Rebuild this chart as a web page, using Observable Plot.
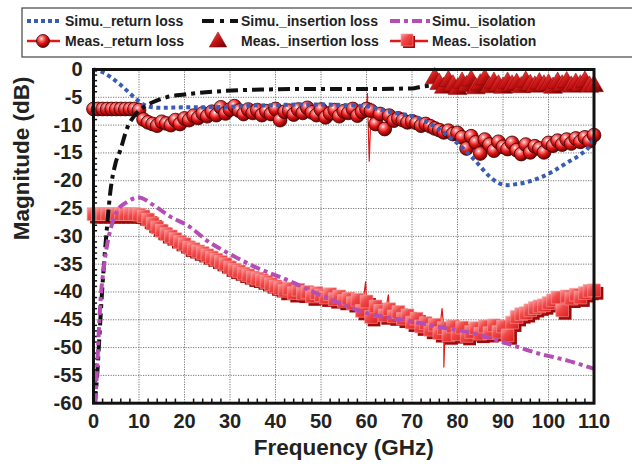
<!DOCTYPE html>
<html><head><meta charset="utf-8">
<script src="https://cdn.jsdelivr.net/npm/d3@7"></script>
<script src="https://cdn.jsdelivr.net/npm/@observablehq/plot@0.6"></script>
<style>
body{margin:0;background:#fff;width:632px;height:469px;overflow:hidden;font-family:"Liberation Sans",Arial,sans-serif;}
#wrap{position:relative;width:632px;height:469px;overflow:hidden;}
#defs{position:absolute;left:0;top:0;width:0;height:0;}
#legend{position:absolute;left:0;top:0;}
#chart{position:absolute;left:0;top:60px;}
</style></head><body>
<div id="wrap">
<svg id="defs" width="0" height="0">
 <defs>
  <radialGradient id="ballGrad" cx="38%" cy="32%" r="70%">
   <stop offset="0%" stop-color="#ffffff"/>
   <stop offset="18%" stop-color="#ff8a8a"/>
   <stop offset="55%" stop-color="#e01515"/>
   <stop offset="100%" stop-color="#6e0000"/>
  </radialGradient>
  <linearGradient id="triGrad" x1="0" y1="0" x2="1" y2="1">
   <stop offset="0%" stop-color="#f86060"/>
   <stop offset="50%" stop-color="#c81414"/>
   <stop offset="100%" stop-color="#600000"/>
  </linearGradient>
  <linearGradient id="sqGrad" x1="0" y1="0" x2="1" y2="1">
   <stop offset="0%" stop-color="#f9a0a0"/>
   <stop offset="40%" stop-color="#f04848"/>
   <stop offset="100%" stop-color="#e01c1c"/>
  </linearGradient>
 </defs>
</svg>
<svg id="legend" width="632" height="60"></svg>
<div id="chart"></div>
</div>
<script>
// ---------- data ----------
const xTicks = [0,10,20,30,40,50,60,70,80,90,100,110];
const yTicks = [0,-5,-10,-15,-20,-25,-30,-35,-40,-45,-50,-55,-60];

const simRLFreq = [0,2,4,6,8,9.5,11,13,15,20,25,30,35,40,45,50,55,60,63,66,69,72,75,78,81,84,87,89,91,93,95,98,101,104,107,109,110];
const simRLVal  = [0,-0.5,-1.5,-2.8,-4.3,-5.4,-6.3,-6.8,-6.9,-6.8,-6.8,-6.7,-6.5,-6.4,-6.3,-6.3,-6.4,-6.6,-7.2,-7.8,-8.2,-8.9,-10.3,-12.0,-14.0,-16.5,-19.2,-20.4,-20.8,-20.6,-20.3,-19.5,-18.3,-16.8,-15.3,-13.8,-12.3];

const simILFreq = [0.3,0.8,1.3,1.8,2.3,3,3.7,4.8,5.9,7.4,9,11,13,16,20,28,37,50,60,70,72,74];
const simILVal  = [-60,-55,-48,-41,-35,-28,-22,-17,-14.5,-10.5,-8.3,-6.8,-5.9,-5,-4.5,-3.9,-3.6,-3.5,-3.5,-3.4,-3.1,-2.9];

const simISOFreq = [0.4,0.8,1.5,2.2,3,4,5.2,7.4,10,13,17,21,25,30,35,43,50,61,70,76,81,86,91,98,104,110];
const simISOVal  = [-60,-53.5,-42,-36,-31.5,-28,-25.4,-23.8,-23,-24.3,-26.5,-28.2,-30.8,-33.2,-35.3,-38,-40.6,-44,-45.3,-46.3,-47,-48,-49.3,-51.1,-52.3,-53.8];

const measFreq = [0,1,2,3,4,5,6,7,8,9,10,11,12,13,14,15,16,17,18,19,20,21,22,23,24,25,26,27,28,29,30,31,32,33,34,35,36,37,38,39,40,41,42,43,44,45,46,47,48,49,50,51,52,53,54,55,56,57,58,59,60,61,62,63,64,65,66,67,68,69,70,71,72,73,74,75,76,77,78,79,80,81,82,83,84,85,86,87,88,89,90,91,92,93,94,95,96,97,98,99,100,101,102,103,104,105,106,107,108,109,110];

const measRLVal = [
 -7.1,-7.1,-7.1,-7.1,-7.1,-7.1,-7.1,-7.1,-7.1,-7.1,
 -7.3,
 -9.0,-9.5,-9.8,-10.1,-9.4,-9.7,-10.0,-9.1,-9.8,-8.8,
 -9.1,-8.3,-8.7,-7.9,-8.4,-7.6,-8.2,-6.8,-7.9,-7.2,
 -6.6,-7.4,-8.0,-7.2,-7.8,-7.3,-8.2,-7.5,-8.0,-7.1,
 -9.1,-7.6,-7.4,-8.1,-7.2,-7.8,-6.9,-7.7,-8.2,-7.2,
 -8.6,-7.9,-7.3,-8.4,-7.5,-7.8,-7.1,-8.3,-7.6,-7.1,
 -7.4,-9.8,-8.0,-10.7,-8.3,-9.2,-8.8,-9.1,-9.5,-9.3,
 -9.6,-10.1,-9.8,-10.2,-10.6,-10.9,-11.3,-11.0,-11.6,-11.4,
 -12.2,-14.2,-12.0,-13.1,-15.1,-12.6,-13.5,-14.6,-13.0,-13.9,
 -14.3,-13.2,-14.5,-15.2,-13.5,-14.9,-13.8,-14.2,-14.9,-13.2,
 -13.7,-12.8,-13.5,-12.6,-13.3,-12.4,-13.0,-12.2,-12.9,-11.8];

const measISOVal = [
 -26,-26,-26,-26,-26,-26,-26,-26,-26,-26,
 -26.1,
 -26.4,-27.0,-27.7,-28.4,-29.0,-29.6,-30.0,-30.5,-31.0,-31.4,
 -32.0,-32.3,-32.7,-33.0,-33.4,-33.8,-34.2,-34.6,-35.0,-35.6,
 -36.0,-36.3,-36.7,-37.0,-37.4,-37.6,-37.9,-38.2,-38.6,-39.0,
 -39.3,-39.8,-39.4,-40.2,-39.6,-40.3,-40.0,-40.8,-40.2,-40.6,
 -41.0,-40.4,-41.3,-40.8,-41.6,-41.2,-42.0,-41.4,-43.4,-41.7,
 -44.5,-42.6,-43.4,-44.2,-43.1,-44.4,-43.6,-44.8,-44.2,-45.5,
 -44.8,-46.2,-45.6,-46.8,-45.9,-47.4,-46.5,-47.8,-46.2,-47.6,
 -46.4,-47.9,-47.2,-46.5,-47.5,-46.2,-47.4,-46.0,-47.2,-46.2,
 -47.8,-45.5,-44.5,-44.0,-43.8,-43.3,-42.9,-42.6,-42.4,-42.0,
 -41.5,-41.0,-43.3,-40.8,-41.2,-40.5,-41.0,-40.2,-39.8,-39.7];

// extra fine-trace excursions of the measured curves (thin red trace only)
const rlSpikeFreq = [60.2,60.6,61.0];
const rlSpikeVal  = [-4.3,-16.5,-6.0];
const isoSpikeFreq = [59.8,64.8,76.6,77.0,77.3];
const isoSpikeVal  = [-38.2,-40.5,-43.0,-53.5,-46.0];

const measILFreq = [75,76,77,78,79,80,81,82,83,84,85,86,87,88,89,90,91,92,93,94,95,96,97,98,99,100,101,102,103,104,105,106,107,108,109,110];
const measILVal  = [-1.6,-2.6,-3.3,-2.1,-2.9,-3.5,-2.4,-3.0,-2.0,-3.4,-2.7,-1.8,-3.2,-2.4,-2.9,-3.3,-2.4,-2.9,-2.6,-3.2,-2.2,-2.8,-3.1,-2.5,-2.9,-2.7,-3.3,-2.4,-2.9,-2.3,-3.1,-2.6,-2.9,-2.2,-3.1,-3.0];

const legendLabels = ["Simu._return loss","Simu._insertion loss","Simu._isolation","Meas._return loss","Meas._insertion loss","Meas._isolation"];

// ---------- build ----------
const rows = (fs, vs) => fs.map((f, i) => ({f, v: vs[i]}));
const simRL = rows(simRLFreq, simRLVal);
const simIL = rows(simILFreq, simILVal);
const simISO = rows(simISOFreq, simISOVal);
const measRL = rows(measFreq, measRLVal);
const measISO = rows(measFreq, measISOVal);
const measIL = rows(measILFreq, measILVal);
const measRLTrace = measRL.concat(rows(rlSpikeFreq, rlSpikeVal)).sort((a, b) => a.f - b.f);
const measISOTrace = measISO.concat(rows(isoSpikeFreq, isoSpikeVal)).sort((a, b) => a.f - b.f);

const minorX = d3.range(0, 111, 2).filter(d => d % 10 !== 0);
const minorY = d3.range(-60, 1, 1).filter(d => d % 5 !== 0);

const BLUE = "#3a5cb4", BLACK = "#111111", MAG = "#b54db5", RED = "#e01818";

const chart = Plot.plot({
  width: 632, height: 409,
  marginTop: 9, marginLeft: 93, marginRight: 38.5, marginBottom: 66.3,
  x: {domain: [0, 110]},
  y: {domain: [-60, 0]},
  style: {fontFamily: "'Liberation Sans', Arial, sans-serif", fontWeight: "bold", fontSize: "20px", color: "#222", background: "white", overflow: "visible"},
  marks: [
    Plot.gridX({ticks: xTicks.slice(1, -1), stroke: "#777", strokeOpacity: 1, strokeWidth: 1, strokeDasharray: "1.2,1.3"}),
    Plot.gridY({ticks: yTicks.slice(1, -1), stroke: "#777", strokeOpacity: 1, strokeWidth: 1, strokeDasharray: "1.2,1.3"}),
    Plot.ruleX(minorX, {x: d => d, y1: -60, y2: -59.25, stroke: "#111", strokeWidth: 1.5}),
    Plot.ruleY(minorY, {y: d => d, x1: 0, x2: 0.9, stroke: "#111", strokeWidth: 1.5}),
    Plot.axisX({ticks: xTicks, tickSize: 0, tickPadding: 11, tickFormat: d => String(d), label: null, fontSize: 20}),
    Plot.axisY({ticks: yTicks, tickSize: 0, tickPadding: 11, tickFormat: d => String(d), label: null, fontSize: 20}),
    // measured
    Plot.line(measRLTrace, {x: "f", y: "v", stroke: RED, strokeWidth: 1.2}),
    Plot.line(measISOTrace, {x: "f", y: "v", stroke: RED, strokeWidth: 1.2}),
    Plot.dot(measISO, {x: "f", y: "v", symbol: "square", r: 7.2, fill: "#a00a0a", dx: 3, dy: 3}),
    Plot.dot(measISO, {x: "f", y: "v", symbol: "square", r: 7.2, fill: "url(#sqGrad)", stroke: "#f79a9a", strokeWidth: 0.6}),
    Plot.dot(measRL, {x: "f", y: "v", r: 6.9, fill: "url(#ballGrad)", stroke: "#3a0000", strokeWidth: 0.8}),
    Plot.dot(measIL, {x: "f", y: "v", symbol: "triangle", r: 7, fill: "url(#triGrad)", stroke: "#8a0000", strokeWidth: 0.5}),
    // simulated
    Plot.line(simRL, {x: "f", y: "v", stroke: BLUE, strokeWidth: 4, strokeDasharray: "4,3.5", strokeLinecap: "butt", curve: "monotone-x"}),
    Plot.line(simIL, {x: "f", y: "v", stroke: BLACK, strokeWidth: 4, strokeDasharray: "12,5,4,5", strokeLinecap: "butt", curve: "monotone-x"}),
    Plot.line(simISO, {x: "f", y: "v", stroke: MAG, strokeWidth: 4, strokeDasharray: "10,4,4,4", strokeLinecap: "butt", curve: "monotone-x"}),
    Plot.frame({stroke: "#111", strokeWidth: 3}),
    Plot.text(["Frequency (GHz)"], {frameAnchor: "bottom", dy: 52, fontSize: 22.5, fontWeight: "bold", fill: "#222"}),
    Plot.text(["Magnitude (dB)"], {frameAnchor: "left", dx: -72, dy: 4, rotate: -90, fontSize: 22.5, fontWeight: "bold", fill: "#222"})
  ]
});
document.getElementById("chart").appendChild(chart);

// ---------- legend ----------
const lg = d3.select("#legend");
lg.append("rect").attr("x", 22).attr("y", 8).attr("width", 700).attr("height", 49)
  .attr("fill", "white").attr("stroke", "#444").attr("stroke-width", 1.2);
const textX = [65, 241, 432];
const rowY = [21, 41];
// row 1 samples
lg.append("line").attr("x1", 27).attr("x2", 60).attr("y1", rowY[0]).attr("y2", rowY[0])
  .attr("stroke", BLUE).attr("stroke-width", 4).attr("stroke-dasharray", "4,3");
lg.append("line").attr("x1", 202).attr("x2", 238).attr("y1", rowY[0]).attr("y2", rowY[0])
  .attr("stroke", BLACK).attr("stroke-width", 4).attr("stroke-dasharray", "12,6,4,6");
lg.append("line").attr("x1", 390).attr("x2", 430).attr("y1", rowY[0]).attr("y2", rowY[0])
  .attr("stroke", MAG).attr("stroke-width", 4).attr("stroke-dasharray", "10,4,4,4");
// row 2 samples
lg.append("line").attr("x1", 27).attr("x2", 60).attr("y1", rowY[1]).attr("y2", rowY[1])
  .attr("stroke", RED).attr("stroke-width", 2.5);
lg.append("circle").attr("cx", 43).attr("cy", rowY[1]).attr("r", 6.5)
  .attr("fill", "url(#ballGrad)").attr("stroke", "#3a0000").attr("stroke-width", 0.8);
lg.append("path").attr("d", d3.symbol(d3.symbolTriangle, Math.PI * 6.5 * 6.5)())
  .attr("transform", `translate(218,${rowY[1] + 1})`)
  .attr("fill", "url(#triGrad)").attr("stroke", "#8a0000").attr("stroke-width", 0.5);
lg.append("line").attr("x1", 390).attr("x2", 428).attr("y1", rowY[1]).attr("y2", rowY[1])
  .attr("stroke", RED).attr("stroke-width", 2.5);
lg.append("rect").attr("x", 403).attr("y", rowY[1] - 5).attr("width", 12).attr("height", 12).attr("fill", "#a00a0a");
lg.append("rect").attr("x", 401).attr("y", rowY[1] - 7).attr("width", 12).attr("height", 12)
  .attr("fill", "url(#sqGrad)").attr("stroke", "#f79a9a").attr("stroke-width", 0.6);
legendLabels.forEach((t, i) => {
  const c = i % 3, r = Math.floor(i / 3);
  lg.append("text").attr("x", textX[c]).attr("y", rowY[r] + 5)
    .attr("font-family", "'Liberation Sans', Arial, sans-serif").attr("font-weight", "bold")
    .attr("font-size", 14).attr("fill", "#222").text(t);
});
</script>
</body></html>
